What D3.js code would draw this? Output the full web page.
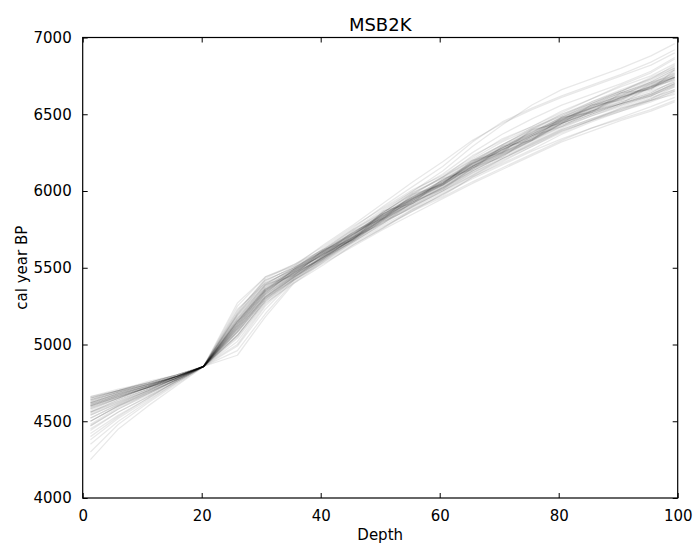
<!DOCTYPE html>
<html><head><meta charset="utf-8">
<script src="https://cdn.jsdelivr.net/npm/d3@7"></script>
<style>
html,body{margin:0;padding:0;background:#fff;}
text{font-family:"DejaVu Sans",sans-serif;fill:#000;}
</style></head>
<body>
<svg id="chart" width="694" height="546"></svg>
<script>
const title = "MSB2K";
const xLabel = "Depth";
const yLabel = "cal year BP";
const xTicks = [0, 20, 40, 60, 80, 100];
const yTicks = [4000, 4500, 5000, 5500, 6000, 6500, 7000];
const depths = [1.3, 6, 11, 15.7, 20.3, 26, 30.7, 35.5, 40.5, 45.5, 50.5, 55.5, 60.5, 65.5, 70.5, 75.5, 80.5, 85.5, 90.5, 95.5, 99.5];

// age-depth ensemble iterations (cal year BP at each depth)
const iter01 = [4650,4700,4740,4790,4855,5150,5370,5480,5600,5710,5850,5960,6060,6180,6280,6370,6470,6540,6610,6680,6760];
const iter02 = [4620,4680,4730,4790,4858,5200,5420,5500,5610,5720,5830,5930,6020,6150,6240,6330,6440,6510,6570,6630,6700];
const iter03 = [4600,4660,4720,4780,4856,5080,5300,5440,5570,5690,5820,5950,6060,6170,6290,6390,6480,6560,6640,6700,6780];
const iter04 = [4560,4640,4710,4780,4860,5000,5250,5420,5550,5680,5800,5910,6010,6130,6230,6320,6420,6490,6560,6620,6680];
const iter05 = [4500,4600,4690,4770,4857,5270,5440,5520,5620,5730,5860,5980,6090,6200,6300,6400,6500,6580,6660,6730,6820];
const iter06 = [4450,4560,4660,4760,4855,5120,5340,5470,5590,5700,5820,5920,6030,6140,6240,6330,6420,6500,6570,6620,6690];
const iter07 = [4380,4520,4640,4750,4858,4930,5180,5400,5540,5670,5790,5900,6000,6110,6210,6310,6400,6470,6530,6590,6650];
const iter08 = [4300,4480,4620,4740,4856,5150,5360,5480,5600,5730,5850,5970,6070,6190,6300,6400,6490,6570,6640,6710,6790];
const iter09 = [4250,4450,4600,4730,4855,5100,5310,5450,5580,5700,5840,5950,6050,6170,6270,6360,6460,6540,6620,6680,6740];
const iter10 = [4660,4710,4750,4800,4857,5230,5400,5490,5600,5710,5830,5940,6040,6150,6250,6340,6450,6530,6600,6670,6740];
const iter11 = [4640,4690,4740,4790,4856,5050,5280,5430,5560,5680,5810,5930,6040,6160,6270,6370,6470,6550,6620,6680,6740];
const iter12 = [4610,4670,4730,4790,4858,5170,5380,5490,5610,5730,5850,5950,6050,6170,6270,6360,6450,6520,6590,6650,6710];
const iter13 = [4580,4650,4720,4790,4857,4960,5200,5410,5550,5680,5810,5920,6020,6130,6230,6330,6430,6500,6560,6620,6690];
const iter14 = [4540,4620,4700,4780,4855,5110,5330,5460,5580,5690,5810,5910,6010,6120,6220,6310,6410,6490,6550,6610,6660];
const iter15 = [4470,4580,4670,4770,4859,5190,5390,5500,5610,5720,5840,5960,6070,6190,6290,6380,6480,6570,6650,6720,6800];
const iter16 = [4420,4540,4650,4760,4856,5060,5290,5440,5570,5690,5820,5940,6050,6180,6280,6380,6480,6560,6640,6710,6790];
const iter17 = [4350,4500,4630,4750,4857,5130,5350,5470,5590,5700,5830,5940,6040,6160,6250,6340,6440,6510,6580,6640,6720];
const iter18 = [4650,4700,4750,4800,4856,5090,5310,5450,5570,5700,5830,5950,6060,6180,6280,6380,6470,6540,6610,6670,6740];
const iter19 = [4630,4690,4740,4790,4855,5140,5360,5480,5590,5700,5820,5920,6020,6130,6230,6330,6440,6520,6600,6660,6730];
const iter20 = [4600,4670,4730,4790,4857,5220,5420,5500,5610,5720,5840,5950,6050,6160,6250,6340,6440,6510,6570,6630,6700];
const iter21 = [4570,4650,4720,4780,4858,5020,5260,5430,5560,5690,5820,5940,6040,6160,6260,6360,6460,6550,6630,6700,6770];
const iter22 = [4520,4610,4700,4780,4856,5160,5370,5490,5600,5720,5850,5960,6070,6180,6270,6360,6460,6540,6610,6670,6730];
const iter23 = [4480,4590,4680,4770,4857,5110,5320,5450,5570,5690,5810,5920,6020,6140,6240,6340,6430,6500,6570,6630,6700];
const iter24 = [4400,4530,4650,4760,4855,4990,5230,5420,5560,5690,5820,5930,6030,6150,6250,6350,6450,6530,6610,6680,6760];
const iter25 = [4620,4680,4730,4790,4857,5140,5350,5490,5630,5760,5900,6030,6160,6320,6450,6540,6620,6690,6760,6840,6920];
const iter26 = [4560,4630,4710,4780,4856,5100,5310,5440,5550,5660,5770,5870,5960,6060,6150,6240,6330,6410,6480,6550,6610];
const iter27 = [4600,4660,4720,4790,4857,5180,5390,5500,5620,5750,5880,6000,6110,6250,6370,6470,6560,6630,6700,6780,6870];
const iter28 = [4540,4620,4700,4780,4856,5060,5280,5420,5540,5650,5760,5870,5980,6090,6180,6270,6370,6450,6520,6580,6640];
const iter29 = [4640,4700,4750,4800,4858,5120,5340,5470,5590,5720,5860,5990,6090,6230,6330,6420,6520,6600,6690,6770,6860];
const iter30 = [4500,4600,4690,4770,4855,5080,5300,5440,5570,5690,5800,5890,5990,6100,6200,6290,6390,6460,6530,6600,6660];
const iter31 = [4590,4660,4720,4790,4857,5150,5360,5480,5610,5740,5870,6000,6130,6290,6430,6560,6660,6730,6800,6880,6960];
const iter32 = [4610,4670,4730,4790,4856,5130,5340,5460,5570,5670,5780,5880,5980,6080,6170,6260,6340,6410,6470,6530,6590];
const iter33 = [4630,4690,4740,4790,4856,5110,5330,5490,5580,5740,5820,5980,6040,6200,6250,6400,6440,6560,6590,6700,6740];
const iter34 = [4590,4650,4720,4780,4857,5170,5390,5450,5620,5680,5870,5920,6080,6140,6290,6330,6480,6510,6640,6660,6790];
const iter35 = [4660,4700,4760,4800,4855,5210,5430,5520,5640,5770,5890,6010,6100,6220,6340,6420,6510,6600,6680,6750,6830];
const iter36 = [4470,4580,4680,4770,4857,5040,5270,5400,5520,5650,5760,5880,5970,6090,6190,6290,6380,6460,6540,6600,6680];
const iter37 = [4550,4630,4700,4780,4858,5140,5350,5470,5560,5700,5790,5930,6010,6150,6220,6360,6420,6520,6570,6680,6720];
const iter38 = [4610,4670,4720,4790,4856,5190,5410,5510,5650,5780,5920,6060,6190,6330,6440,6530,6610,6680,6750,6820,6900];
const iter39 = [4520,4610,4690,4770,4857,5080,5300,5420,5530,5640,5750,5850,5950,6050,6140,6230,6320,6390,6460,6520,6580];
const iter40 = [4640,4690,4740,4790,4855,5150,5360,5460,5600,5700,5850,5940,6070,6160,6280,6370,6470,6550,6630,6690,6770];
const iter41 = [4580,4650,4720,4790,4858,5100,5320,5460,5570,5720,5830,5970,6050,6190,6280,6390,6460,6560,6620,6710,6750];
const iter42 = [4440,4560,4660,4760,4856,5130,5350,5470,5590,5690,5840,5930,6060,6150,6270,6350,6460,6520,6610,6670,6750];
const iter43 = [4620,4680,4730,4790,4857,5060,5290,5430,5580,5710,5860,5980,6090,6210,6320,6410,6500,6570,6650,6730,6800];
const iter44 = [4600,4660,4720,4780,4856,5160,5380,5480,5590,5680,5800,5900,6000,6100,6210,6300,6400,6470,6540,6590,6650];
const iter45 = [4560,4640,4710,4780,4857,5120,5330,5450,5580,5710,5850,5960,6050,6180,6260,6370,6450,6540,6600,6690,6740];
const iter46 = [4650,4700,4750,4800,4855,5250,5440,5510,5620,5750,5860,5990,6080,6200,6300,6410,6490,6580,6650,6740,6810];
const iter47 = [4500,4600,4680,4770,4858,5090,5310,5440,5560,5670,5790,5900,6000,6120,6210,6300,6390,6460,6520,6590,6630];
const iter48 = [4620,4680,4740,4790,4856,5200,5400,5490,5610,5730,5840,5950,6040,6160,6260,6350,6440,6520,6580,6640,6710];

const iterations = [iter01,iter02,iter03,iter04,iter05,iter06,iter07,iter08,iter09,iter10,iter11,iter12,iter13,iter14,iter15,iter16,
  iter17,iter18,iter19,iter20,iter21,iter22,iter23,iter24,iter25,iter26,iter27,iter28,iter29,iter30,iter31,iter32,
  iter33,iter34,iter35,iter36,iter37,iter38,iter39,iter40,iter41,iter42,iter43,iter44,iter45,iter46,iter47,iter48];

const svg = d3.select("#chart");
const L = 82.7, R = 677.7, T = 37.5, B = 498;
const x = d3.scaleLinear().domain([0, 100]).range([L, R]);
const y = d3.scaleLinear().domain([4000, 7000]).range([B, T]);

svg.append("defs").append("clipPath").attr("id", "clip")
  .append("rect").attr("x", L).attr("y", T).attr("width", R - L).attr("height", B - T);

const line = d3.line().x((d, i) => x(depths[i])).y(d => y(d));
svg.append("g").attr("clip-path", "url(#clip)")
  .selectAll("path").data(iterations).join("path")
  .attr("d", line)
  .attr("fill", "none")
  .attr("stroke", "#000")
  .attr("stroke-opacity", 0.09)
  .attr("stroke-width", 1.3)
  .attr("stroke-linejoin", "round");

// axes (matplotlib classic: inward ticks on all sides)
const tickLen = 5;
const axB = svg.append("g").attr("transform", `translate(0,${B})`)
  .call(d3.axisBottom(x).tickValues(xTicks).tickSize(-tickLen).tickPadding(tickLen + 7).tickFormat(d3.format("d")));
const axT = svg.append("g").attr("transform", `translate(0,${T})`)
  .call(d3.axisTop(x).tickValues(xTicks).tickSize(-tickLen).tickFormat(""));
const axL = svg.append("g").attr("transform", `translate(${L},0)`)
  .call(d3.axisLeft(y).tickValues(yTicks).tickSize(-tickLen).tickPadding(tickLen + 6).tickFormat(d3.format("d")));
const axR = svg.append("g").attr("transform", `translate(${R},0)`)
  .call(d3.axisRight(y).tickValues(yTicks).tickSize(-tickLen).tickFormat(""));
[axB, axT, axL, axR].forEach(g => {
  g.select(".domain").remove();
  g.selectAll(".tick line").attr("stroke", "#000").attr("stroke-width", 1);
  g.selectAll(".tick text").attr("font-size", 15).attr("font-family", "DejaVu Sans").attr("fill", "#000");
});

svg.append("rect").attr("x", L).attr("y", T).attr("width", R - L).attr("height", B - T)
  .attr("fill", "none").attr("stroke", "#000").attr("stroke-width", 1.2);

svg.append("text").attr("x", (L + R) / 2).attr("y", 31).attr("text-anchor", "middle")
  .attr("font-size", 18).text(title);
svg.append("text").attr("x", (L + R) / 2).attr("y", 540).attr("text-anchor", "middle")
  .attr("font-size", 15).text(xLabel);
svg.append("text").attr("transform", `translate(27,${(T + B) / 2}) rotate(-90)`)
  .attr("text-anchor", "middle").attr("font-size", 15).text(yLabel);
</script>
</body></html>
